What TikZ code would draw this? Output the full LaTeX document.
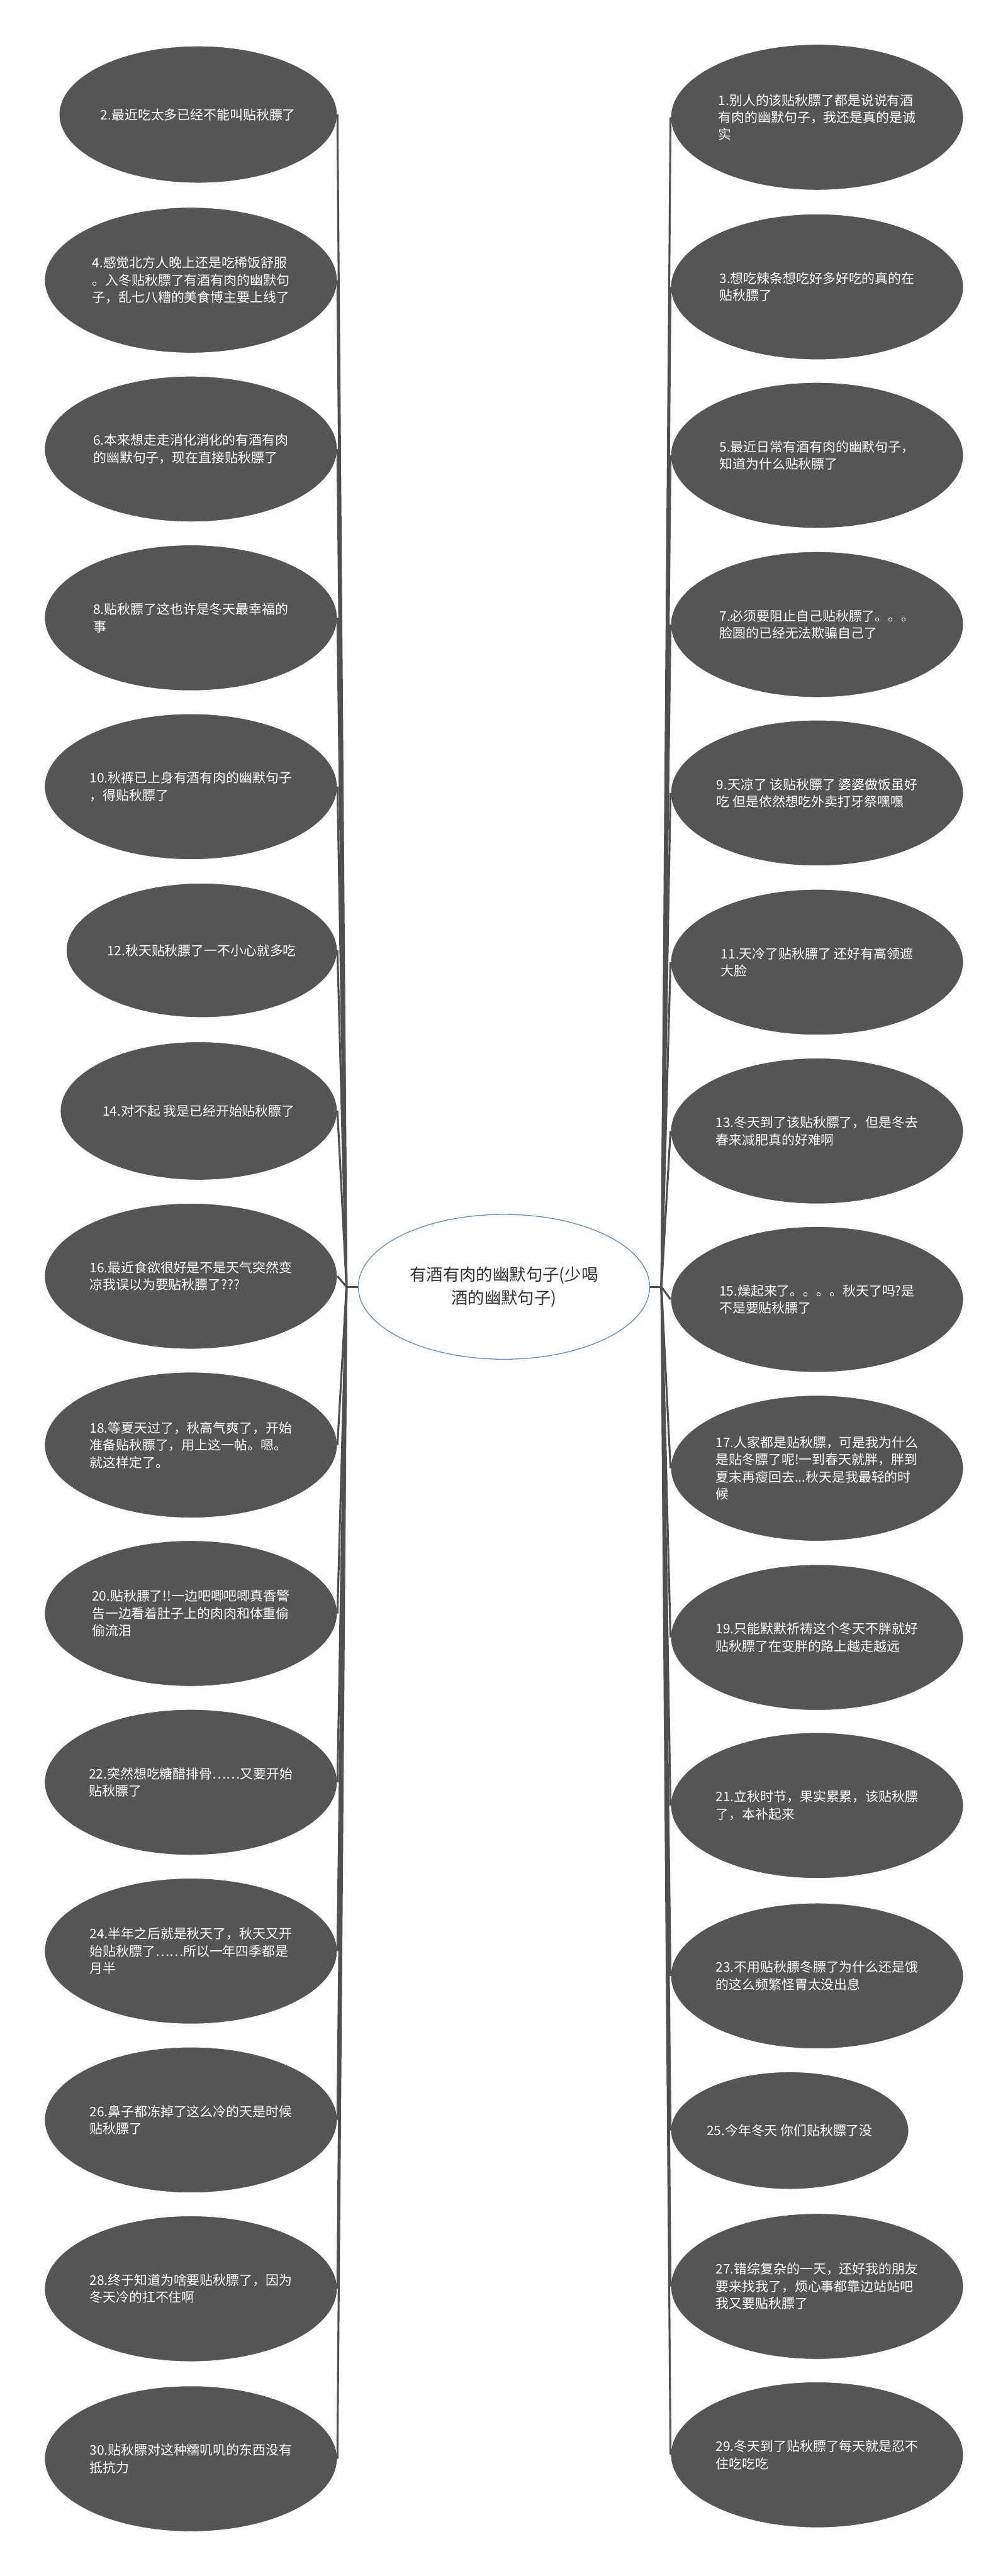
\documentclass[tikz,border=0pt]{standalone}
\usepackage{fontspec}
\setmainfont{Noto Sans CJK SC}
\usepackage{tikz}
\usetikzlibrary{shapes.geometric, positioning}
\definecolor{leafgray}{RGB}{85, 85, 85}
\definecolor{linegray}{RGB}{80, 80, 80}
\definecolor{hubblue}{RGB}{96, 142, 204}
\definecolor{hubtext}{RGB}{51, 51, 51}
\tikzset{
    topic/.style={ellipse, draw=hubblue, fill=white, text=hubtext, line width=0.6pt, minimum width=7.4cm, minimum height=3.68cm, inner sep=0pt, align=center, font=\fontsize{12pt}{17pt}\selectfont},
    idea/.style={ellipse, draw=white, fill=leafgray, text=white, line width=0.4pt, minimum width=7.43cm, minimum height=3.7cm, inner sep=0pt, align=left, font=\fontsize{9.5pt}{12.5pt}\selectfont},
    leftidea/.style={idea, anchor=east},
    rightidea/.style={idea, anchor=west},
    link/.style={draw=linegray, line width=0.05cm}
}

\begin{document}
\begin{tikzpicture}
            \useasboundingbox (0,0) rectangle (25.6,-65.46);

            \node (hub) [topic] at (12.80,-32.70) {有酒有肉的幽默句子(少喝\\酒的幽默句子)};
            \coordinate (jl) at (8.80,-32.70);
            \coordinate (jr) at (16.80,-32.70);

            % left column
            \node (n2) [leftidea, minimum width=7.06cm, minimum height=3.48cm] at (8.57,-2.91) {2.最近吃太多已经不能叫贴秋膘了};
            \node (n4) [leftidea] at (8.57,-7.12) {4.感觉北方人晚上还是吃稀饭舒服\\。入冬贴秋膘了有酒有肉的幽默句\\子，乱七八糟的美食博主要上线了};
            \node (n6) [leftidea] at (8.57,-11.41) {6.本来想走走消化消化的有酒有肉\\的幽默句子，现在直接贴秋膘了};
            \node (n8) [leftidea] at (8.57,-15.70) {8.贴秋膘了这也许是冬天最幸福的\\事};
            \node (n10) [leftidea] at (8.57,-19.99) {10.秋裤已上身有酒有肉的幽默句子\\，得贴秋膘了};
            \node (n12) [leftidea, minimum width=6.88cm, minimum height=3.41cm] at (8.57,-24.15) {12.秋天贴秋膘了一不小心就多吃};
            \node (n14) [leftidea, minimum width=7.03cm, minimum height=3.51cm] at (8.57,-28.23) {14.对不起 我是已经开始贴秋膘了};
            \node (n16) [leftidea] at (8.57,-32.43) {16.最近食欲很好是不是天气突然变\\凉我误以为要贴秋膘了???};
            \node (n18) [leftidea] at (8.57,-36.72) {18.等夏天过了，秋高气爽了，开始\\准备贴秋膘了，用上这一帖。嗯。\\就这样定了。};
            \node (n20) [leftidea] at (8.57,-41.00) {20.贴秋膘了!!一边吧唧吧唧真香警\\告一边看着肚子上的肉肉和体重偷\\偷流泪};
            \node (n22) [leftidea] at (8.57,-45.29) {22.突然想吃糖醋排骨……又要开始\\贴秋膘了};
            \node (n24) [leftidea] at (8.57,-49.58) {24.半年之后就是秋天了，秋天又开\\始贴秋膘了……所以一年四季都是\\月半};
            \node (n26) [leftidea] at (8.57,-53.87) {26.鼻子都冻掉了这么冷的天是时候\\贴秋膘了};
            \node (n28) [leftidea] at (8.57,-58.16) {28.终于知道为啥要贴秋膘了，因为\\冬天冷的扛不住啊};
            \node (n30) [leftidea] at (8.57,-62.48) {30.贴秋膘对这种糯叽叽的东西没有\\抵抗力};

            % right column
            \node (n1) [rightidea] at (17.03,-2.98) {1.别人的该贴秋膘了都是说说有酒\\有肉的幽默句子，我还是真的是诚\\实};
            \node (n3) [rightidea] at (17.03,-7.29) {3.想吃辣条想吃好多好吃的真的在\\贴秋膘了};
            \node (n5) [rightidea] at (17.03,-11.57) {5.最近日常有酒有肉的幽默句子，\\知道为什么贴秋膘了};
            \node (n7) [rightidea] at (17.03,-15.87) {7.必须要阻止自己贴秋膘了。。。\\脸圆的已经无法欺骗自己了};
            \node (n9) [rightidea] at (17.03,-20.15) {9.天凉了 该贴秋膘了 婆婆做饭虽好\\吃 但是依然想吃外卖打牙祭嘿嘿};
            \node (n11) [rightidea] at (17.03,-24.45) {11.天冷了贴秋膘了 还好有高领遮\\大脸};
            \node (n13) [rightidea] at (17.03,-28.74) {13.冬天到了该贴秋膘了，但是冬去\\春来减肥真的好难啊};
            \node (n15) [rightidea] at (17.03,-33.02) {15.燥起来了。。。。秋天了吗?是\\不是要贴秋膘了};
            \node (n17) [rightidea] at (17.03,-37.31) {17.人家都是贴秋膘，可是我为什么\\是贴冬膘了呢!一到春天就胖，胖到\\夏末再瘦回去...秋天是我最轻的时\\候};
            \node (n19) [rightidea] at (17.03,-41.61) {19.只能默默祈祷这个冬天不胖就好\\贴秋膘了在变胖的路上越走越远};
            \node (n21) [rightidea] at (17.03,-45.88) {21.立秋时节，果实累累，该贴秋膘\\了，本补起来};
            \node (n23) [rightidea] at (17.03,-50.21) {23.不用贴秋膘冬膘了为什么还是饿\\的这么频繁怪胃太没出息};
            \node (n25) [rightidea, minimum width=6.04cm, minimum height=2.98cm] at (17.03,-54.14) {25.今年冬天 你们贴秋膘了没};
            \node (n27) [rightidea] at (17.03,-58.10) {27.错综复杂的一天，还好我的朋友\\要来找我了，烦心事都靠边站站吧\\我又要贴秋膘了};
            \node (n29) [rightidea] at (17.03,-62.38) {29.冬天到了贴秋膘了每天就是忍不\\住吃吃吃};

            % connectors
            \draw [link] (hub.west) -- (jl);
            \draw [link] (jl) -- (n2.east);
            \draw [link] (jl) -- (n4.east);
            \draw [link] (jl) -- (n6.east);
            \draw [link] (jl) -- (n8.east);
            \draw [link] (jl) -- (n10.east);
            \draw [link] (jl) -- (n12.east);
            \draw [link] (jl) -- (n14.east);
            \draw [link] (jl) -- (n16.east);
            \draw [link] (jl) -- (n18.east);
            \draw [link] (jl) -- (n20.east);
            \draw [link] (jl) -- (n22.east);
            \draw [link] (jl) -- (n24.east);
            \draw [link] (jl) -- (n26.east);
            \draw [link] (jl) -- (n28.east);
            \draw [link] (jl) -- (n30.east);

            \draw [link] (hub.east) -- (jr);
            \draw [link] (jr) -- (n1.west);
            \draw [link] (jr) -- (n3.west);
            \draw [link] (jr) -- (n5.west);
            \draw [link] (jr) -- (n7.west);
            \draw [link] (jr) -- (n9.west);
            \draw [link] (jr) -- (n11.west);
            \draw [link] (jr) -- (n13.west);
            \draw [link] (jr) -- (n15.west);
            \draw [link] (jr) -- (n17.west);
            \draw [link] (jr) -- (n19.west);
            \draw [link] (jr) -- (n21.west);
            \draw [link] (jr) -- (n23.west);
            \draw [link] (jr) -- (n25.west);
            \draw [link] (jr) -- (n27.west);
            \draw [link] (jr) -- (n29.west);
        \end{tikzpicture}
\end{document}
